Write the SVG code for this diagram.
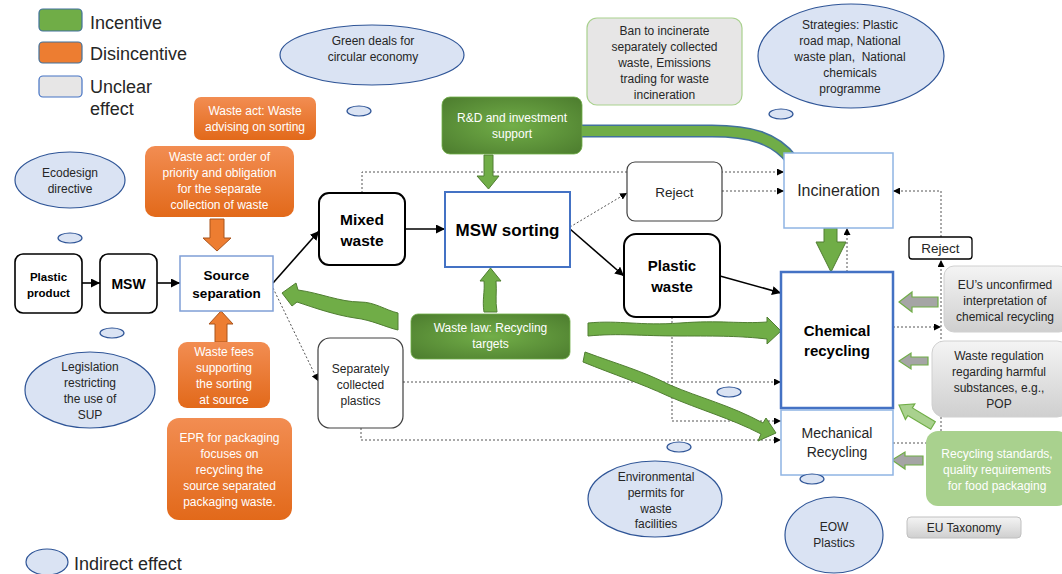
<svg xmlns="http://www.w3.org/2000/svg" width="1062" height="574" viewBox="0 0 1062 574">
<defs>
<style>
.t{font-family:"Liberation Sans",Arial,sans-serif;font-size:12px;text-anchor:middle;fill:#262626}
.w{fill:#ffffff}
.b{font-weight:bold;fill:#000}
.lg{font-family:"Liberation Sans",Arial,sans-serif;font-size:18px;fill:#262626}
.ell{fill:#dae3f3;stroke:#2f5597;stroke-width:1.2}
.dot{fill:none;stroke:#555;stroke-width:1;stroke-dasharray:2 2}
.sol{fill:none;stroke:#000;stroke-width:1.6}
.blk{fill:#fff;stroke:#000;stroke-width:1.6}
.thin{fill:#fff;stroke:#404040;stroke-width:1.2}
.blue{fill:#fff;stroke:#4472c4;stroke-width:2}
.lblue{fill:#fff;stroke:#8fb4e3;stroke-width:1.5}
.ga{fill:#70ad47;stroke:#507e32;stroke-width:1}
.oa{fill:#ed7d31;stroke:#a9541c;stroke-width:1}
.gr{fill:#a5a5a5;stroke:#70ad47;stroke-width:1.2}
</style>
<linearGradient id="og" x1="0" y1="0" x2="0" y2="1"><stop offset="0" stop-color="#f28d52"/><stop offset="1" stop-color="#e2691a"/></linearGradient>
<radialGradient id="dg" cx="50%" cy="50%" r="70%"><stop offset="0" stop-color="#72ae48"/><stop offset="1" stop-color="#4c7c2e"/></radialGradient>
<linearGradient id="gg" x1="0" y1="0" x2="0" y2="1"><stop offset="0" stop-color="#f4f4f4"/><stop offset="1" stop-color="#cfcfcf"/></linearGradient>
<marker id="ah" viewBox="0 0 10 10" refX="10" refY="5" markerWidth="7" markerHeight="7" markerUnits="userSpaceOnUse" orient="auto"><path d="M0,0 L10,5 L0,10 z" fill="#000"/></marker>
<marker id="as" viewBox="0 0 10 10" refX="10" refY="5" markerWidth="9" markerHeight="9" markerUnits="userSpaceOnUse" orient="auto"><path d="M0,0 L10,5 L0,10 z" fill="#000"/></marker>
</defs>
<rect width="1062" height="574" fill="#fff"/>

<g id="legend">
<rect x="39" y="9" width="43" height="22" rx="4" fill="#70ad47" stroke="#41719c" stroke-width="1.2"/>
<text class="lg" x="90" y="29">Incentive</text>
<rect x="39" y="42" width="43" height="21" rx="4" fill="#ed7d31" stroke="#41719c" stroke-width="1.2"/>
<text class="lg" x="90" y="60">Disincentive</text>
<rect x="39" y="76" width="43" height="21" rx="4" fill="#e7e6e6" stroke="#4472c4" stroke-width="1.2"/>
<text class="lg" x="90" y="93">Unclear</text>
<text class="lg" x="90" y="115">effect</text>
<ellipse class="ell" cx="47" cy="562" rx="21" ry="13"/>
<text class="lg" x="74" y="570">Indirect effect</text>
</g>

<g id="connectors">
<path class="dot" d="M362,193 V172 H784" marker-end="url(#ah)"/>
<path class="dot" d="M722,191 H784" marker-end="url(#ah)"/>
<path class="dot" d="M570,227 L627,193" marker-end="url(#ah)"/>
<path class="dot" d="M273,288 L318,381" marker-end="url(#ah)"/>
<path class="dot" d="M403,382 H781" marker-end="url(#ah)"/>
<path class="dot" d="M361,428 V440 H781" marker-end="url(#ah)"/>
<path class="dot" d="M672,317 V421 H781" marker-end="url(#ah)"/>
<path class="dot" d="M847,272 V228" marker-end="url(#ah)"/>
<path class="dot" d="M893,327 H941" marker-end="url(#ah)"/>
<path class="dot" d="M893,443 H941 V260" marker-end="url(#ah)"/>
<path class="dot" d="M941,237 V191 H893" marker-end="url(#ah)"/>
<path class="sol" d="M82,283 H100" marker-end="url(#as)"/>
<path class="sol" d="M157,283 H180" marker-end="url(#as)"/>
<path class="sol" d="M273,283 L319,231" marker-end="url(#as)"/>
<path class="sol" d="M405,229 H445" marker-end="url(#as)"/>
<path class="sol" d="M570,229 L624,276" marker-end="url(#as)"/>
<path class="sol" d="M720,276 L781,293" marker-end="url(#as)"/>
</g>

<g id="effect-arrows">
<path d="M582,131 H712 C750,131 775,138 792,160" fill="none" stroke="#41719c" stroke-width="13"/>
<path d="M582,131 H712 C750,131 775,138 792,160" fill="none" stroke="#70ad47" stroke-width="10"/>
<path class="ga" d="M484,155 H493 V176 H499 L488.5,189 L477,176 H484 Z"/>
<path class="ga" d="M484,312 C482,300 485,292 484,281 H480 L490.5,268 L501,281 H496 C497,292 495,300 497,312 Z"/>
<path class="ga" d="M824,228 H837 V242 H846 L831,272 L816,242 H824 Z"/>
<path class="ga" d="M282,293 L296,283 L298,290 C320,293 340,302 360,302 C375,302 385,310 398,313 L398,330 C385,327 372,320 355,318 C335,315 315,308 297,302 L292,306 Z"/>
<path class="ga" d="M588,323 C620,320 640,326 680,323 C720,320 740,324 767,322 L767,317 L781,331 L767,344 L767,339 C740,336 720,336 680,336 C640,336 620,333 588,336 Z"/>
<path class="ga" d="M585,352 C620,365 640,370 670,385 C700,398 730,405 763,423 L766,418 L776,433 L758,441 L761,434 C730,418 700,410 668,396 C640,383 615,375 583,362 Z"/>
<path class="oa" d="M210,219 H224 V238 H231 L217,251 L203,238 H210 Z"/>
<path class="oa" d="M215,342 V324 H209 L221,311 L233,324 H227 V342 Z"/>
<path class="gr" d="M899,302 L912,292 V297 H938 V307 H912 V312 Z"/>
<path class="gr" d="M899,361 L911,353 V357 H928 V365 H911 V369 Z"/>
<path class="gr" d="M892,460 L905,452 V456 H923 V465 H905 V469 Z"/>
<path d="M899,405 L914.8,404 L912.4,407.9 L935.3,421.7 L930.7,429.3 L907.8,415.6 L905.4,419.4 Z" fill="#a9d18e" stroke="#70ad47" stroke-width="1.2"/>
</g>

<g id="plastic-product"><rect class="blk" x="15" y="254" width="67" height="59" rx="8"/><text class="t b" x="48.5" y="281" style="font-size:11.5px">Plastic</text><text class="t b" x="48.5" y="297" style="font-size:11.5px">product</text></g>
<g id="msw"><rect class="blk" x="100" y="254" width="57" height="59" rx="8"/><text class="t b" x="128.5" y="289" style="font-size:14px">MSW</text></g>
<g id="source-separation"><rect x="180" y="256" width="93" height="55" fill="#fff" stroke="#7f9fd6" stroke-width="1.5"/><text class="t b" x="226.5" y="280" style="font-size:13.5px">Source</text><text class="t b" x="226.5" y="298" style="font-size:13.5px">separation</text></g>
<g id="mixed-waste"><rect class="blk" x="319" y="193" width="86" height="72" rx="10" style="stroke-width:2"/><text class="t b" x="362" y="225" style="font-size:15.5px">Mixed</text><text class="t b" x="362" y="246" style="font-size:15.5px">waste</text></g>
<g id="msw-sorting"><rect class="blue" x="445" y="192" width="125" height="75"/><text class="t b" x="507.5" y="236" style="font-size:17px">MSW sorting</text></g>
<g id="reject-1"><rect class="thin" x="627" y="162" width="95" height="59" rx="8"/><text class="t" x="674.5" y="197" style="font-size:13.5px">Reject</text></g>
<g id="plastic-waste"><rect class="blk" x="624" y="234" width="96" height="83" rx="12" style="stroke-width:2"/><text class="t b" x="672" y="271" style="font-size:15px">Plastic</text><text class="t b" x="672" y="292" style="font-size:15px">waste</text></g>
<g id="separately-collected"><rect class="thin" x="318" y="338" width="85" height="90" rx="12"/><text class="t" x="360.5" y="373">Separately</text><text class="t" x="360.5" y="389">collected</text><text class="t" x="360.5" y="405">plastics</text></g>
<g id="incineration"><rect class="lblue" x="784" y="153" width="109" height="75"/><text class="t" x="838.5" y="196" style="font-size:16px">Incineration</text></g>
<g id="chemical-recycling"><rect class="blue" x="781" y="272" width="112" height="136" style="stroke-width:2.5"/><text class="t b" x="837" y="336" style="font-size:15px">Chemical</text><text class="t b" x="837" y="356" style="font-size:15px">recycling</text></g>
<g id="mechanical-recycling"><rect class="lblue" x="781" y="410" width="112" height="65"/><text class="t" x="837" y="438" style="font-size:14px">Mechanical</text><text class="t" x="837" y="457" style="font-size:14px">Recycling</text></g>
<g id="reject-2"><rect class="blk" x="909" y="237" width="63" height="22" rx="3" style="stroke-width:1.3"/><text class="t" x="940.5" y="253" style="font-size:13.5px">Reject</text></g>

<g id="waste-act-advising"><rect x="194" y="97" width="122" height="43" rx="7" fill="url(#og)"/><text class="t w" x="255" y="115">Waste act: Waste</text><text class="t w" x="255" y="131">advising on sorting</text></g>
<g id="waste-act-order"><rect x="145" y="146" width="149" height="71" rx="10" fill="url(#og)"/><text class="t w" x="219.5" y="161">Waste act: order of</text><text class="t w" x="219.5" y="177">priority and obligation</text><text class="t w" x="219.5" y="193">for the separate</text><text class="t w" x="219.5" y="209">collection of waste</text></g>
<g id="waste-fees"><rect x="178" y="342" width="92" height="66" rx="9" fill="url(#og)"/><text class="t w" x="224" y="356">Waste fees</text><text class="t w" x="224" y="372">supporting</text><text class="t w" x="224" y="388">the sorting</text><text class="t w" x="224" y="404">at source</text></g>
<g id="epr"><rect x="167" y="418" width="125" height="102" rx="12" fill="url(#og)"/><text class="t w" x="229.5" y="442">EPR for packaging</text><text class="t w" x="229.5" y="458">focuses on</text><text class="t w" x="229.5" y="474">recycling the</text><text class="t w" x="229.5" y="490">source separated</text><text class="t w" x="229.5" y="506">packaging waste.</text></g>

<g id="rd-support"><rect x="442" y="97" width="140" height="57" rx="8" fill="url(#dg)" stroke="#70ad47" stroke-width="0.8"/><text class="t w" x="512" y="122">R&amp;D and investment</text><text class="t w" x="512" y="138">support</text></g>
<g id="waste-law"><rect x="411" y="314" width="159" height="45" rx="7" fill="url(#dg)" stroke="#70ad47" stroke-width="0.8"/><text class="t w" x="490.5" y="332">Waste law: Recycling</text><text class="t w" x="490.5" y="348">targets</text></g>

<g id="ban-incinerate"><rect x="587" y="18" width="155" height="87" rx="10" fill="#e7e6e6" stroke="#a9d18e" stroke-width="1.2"/><text class="t" x="664.5" y="35">Ban to incinerate</text><text class="t" x="664.5" y="51">separately collected</text><text class="t" x="664.5" y="67">waste, Emissions</text><text class="t" x="664.5" y="83">trading for waste</text><text class="t" x="664.5" y="99">incineration</text></g>
<g id="eu-interpretation"><rect x="944" y="266" width="125" height="66" rx="10" fill="url(#gg)" stroke="#d0d0d0" stroke-width="1"/><text class="t" x="1005" y="289">EU’s unconfirmed</text><text class="t" x="1005" y="305">interpretation of</text><text class="t" x="1005" y="321">chemical recycling</text></g>
<g id="waste-regulation"><rect x="932" y="341" width="137" height="76" rx="12" fill="url(#gg)" stroke="#d0d0d0" stroke-width="1"/><text class="t" x="999" y="360">Waste regulation</text><text class="t" x="999" y="376">regarding harmful</text><text class="t" x="999" y="392">substances, e.g.,</text><text class="t" x="999" y="408">POP</text></g>
<g id="recycling-standards"><rect x="926" y="431" width="143" height="75" rx="12" fill="#a9d18e"/><text class="t w" x="997" y="458">Recycling standards,</text><text class="t w" x="997" y="474">quality requirements</text><text class="t w" x="997" y="490">for food packaging</text></g>
<g id="eu-taxonomy"><rect x="907" y="517" width="114" height="21" rx="4" fill="url(#gg)" stroke="#c0c0c0" stroke-width="1"/><text class="t" x="964" y="532">EU Taxonomy</text></g>

<g id="green-deals"><ellipse class="ell" cx="372" cy="55" rx="92" ry="30"/><text class="t" x="373" y="45">Green deals for</text><text class="t" x="373" y="61">circular economy</text><ellipse class="ell" cx="359" cy="111" rx="12" ry="5"/></g>
<g id="ecodesign"><ellipse class="ell" cx="70" cy="180" rx="55" ry="28"/><text class="t" x="70" y="177">Ecodesign</text><text class="t" x="70" y="193">directive</text><ellipse class="ell" cx="70" cy="238" rx="12" ry="5"/></g>
<g id="legislation-sup"><ellipse class="ell" cx="90" cy="390" rx="65" ry="38"/><text class="t" x="90" y="371">Legislation</text><text class="t" x="90" y="387">restricting</text><text class="t" x="90" y="403">the use of</text><text class="t" x="90" y="419">SUP</text><ellipse class="ell" cx="112" cy="333" rx="12" ry="5"/></g>
<g id="strategies"><ellipse class="ell" cx="851" cy="56" rx="93" ry="52"/><text class="t" x="850" y="29">Strategies: Plastic</text><text class="t" x="850" y="45">road map, National</text><text class="t" x="850" y="61" xml:space="preserve">waste plan,  National</text><text class="t" x="850" y="77">chemicals</text><text class="t" x="850" y="93">programme</text><ellipse class="ell" cx="781" cy="114" rx="12" ry="5"/></g>
<g id="environmental-permits"><ellipse class="ell" cx="655" cy="499" rx="67" ry="38"/><text class="t" x="656" y="481">Environmental</text><text class="t" x="656" y="497">permits for</text><text class="t" x="656" y="513">waste</text><text class="t" x="656" y="528">facilities</text><ellipse class="ell" cx="679" cy="447" rx="12" ry="5"/><ellipse class="ell" cx="729" cy="392" rx="12" ry="5"/></g>
<g id="eow-plastics"><ellipse class="ell" cx="834" cy="535" rx="49" ry="38"/><text class="t" x="834" y="531">EOW</text><text class="t" x="834" y="547">Plastics</text><ellipse class="ell" cx="812" cy="479" rx="12" ry="5"/></g>
</svg>
